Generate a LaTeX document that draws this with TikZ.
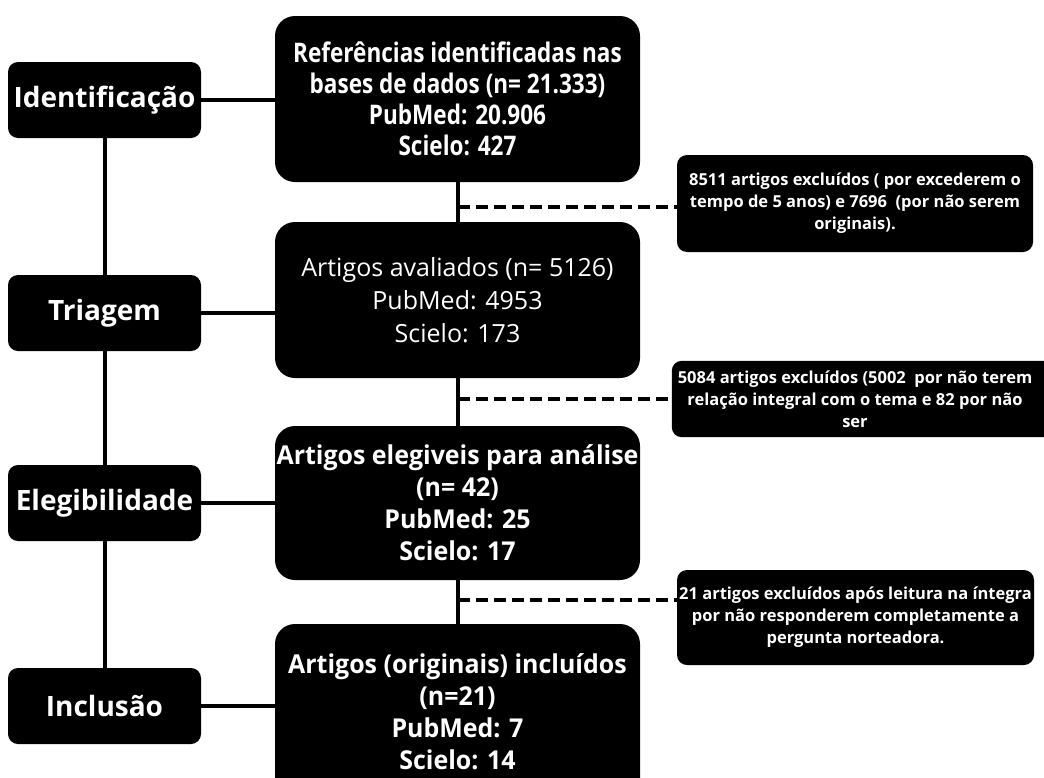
\documentclass[tikz,border=0pt]{standalone}
\usepackage{fontspec}
\usetikzlibrary{backgrounds}
\setmainfont{Open Sans}
\newfontfamily\narrowsans{Open Sans}[FakeStretch=0.835]
\newfontfamily\midsans{Open Sans}[FakeStretch=0.96]
\begin{document}
\begin{tikzpicture}[x=1pt,y=-1pt,
    stage/.style={fill=black, text=white, rounded corners=10pt, inner sep=0pt,
      minimum width=193pt, minimum height=76pt, font=\bfseries\fontsize{28}{32}\selectfont},
    mainbox/.style={fill=black, text=white, rounded corners=20pt, inner sep=0pt,
      minimum width=365pt, align=center, font=\narrowsans\bfseries\fontsize{27}{31}\selectfont},
    exclbox/.style={fill=black, text=white, rounded corners=10pt, inner sep=0pt,
      align=center, font=\bfseries\fontsize{16.5}{22}\selectfont},
    link/.style={line width=4pt},
    cut/.style={line width=4pt, dash pattern=on 12pt off 6pt}]
  \useasboundingbox (0,0) rectangle (1044,777);
  % stages
  \node[stage] (id) at (104.5,100) {Identificação};
  \node[stage] (tri) at (104.5,313) {Triagem};
  \node[stage] (ele) at (104.5,503) {Elegibilidade};
  \node[stage] (inc) at (104.5,706) {Inclusão};
  % main flow
  \node[mainbox, minimum height=166pt] (ref) at (457.5,99)
    {Referências identificadas nas\\bases de dados (n= 21.333)\\PubMed: 20.906\\Scielo: 427};
  \node[mainbox, minimum height=156pt, font=\fontsize{25}{33}\selectfont] (aval) at (457.5,300)
    {Artigos avaliados (n= 5126)\\PubMed: 4953\\Scielo: 173};
  \node[mainbox, minimum height=154pt, font=\midsans\bfseries\fontsize{26}{32}\selectfont] (eleg) at (457.5,503)
    {Artigos elegiveis para análise\\(n= 42)\\PubMed: 25\\Scielo: 17};
  \node[mainbox, minimum height=176pt, font=\midsans\bfseries\fontsize{26}{32}\selectfont] (incl) at (457.5,712)
    {Artigos (originais) incluídos\\(n=21)\\PubMed: 7\\Scielo: 14};
  % exclusions
  \node[exclbox, minimum width=356pt, minimum height=97pt] (exc1) at (855,203.5)
    {8511 artigos excluídos ( por excederem o\\tempo de 5 anos) e 7696~ (por não serem\\originais).};
  \node[exclbox, fill=none, minimum width=366pt, minimum height=76pt] (exc2) at (855,399)
    {5084 artigos excluídos (5002~ por não terem\\relação integral com o tema e 82 por não\\ser};
  \node[exclbox, minimum width=357pt, minimum height=95pt] (exc3) at (855.5,617.5)
    {21 artigos excluídos após leitura na íntegra\\por não responderem completamente a\\pergunta norteadora.};
  % connectors
  \draw[link] (id) -- (tri);
  \draw[link] (tri) -- (ele);
  \draw[link] (ele) -- (inc);
  \draw[link] (id.east) -- (id.east -| ref.west);
  \draw[link] (tri.east) -- (tri.east -| aval.west);
  \draw[link] (ele.east) -- (ele.east -| eleg.west);
  \draw[link] (inc.east) -- (inc.east -| incl.west);
  \draw[link] (ref) -- (aval);
  \draw[link] (aval) -- (eleg);
  \draw[link] (eleg) -- (incl);
  \coordinate (d1) at (458,207);
  \coordinate (d2) at (458,399);
  \coordinate (d3) at (458,600);
  \draw[cut] (d1) -- (d1 -| exc1.west);
  \draw[cut] (d2) -- (d2 -| exc2.west);
  \draw[cut] (d3) -- (d3 -| exc3.west);
  \begin{scope}[on background layer]
    \fill[white] (0,0) rectangle (1044,777);
    \fill[rounded corners=10pt] (exc2.north west) rectangle ([xshift=50pt]exc2.south east);
  \end{scope}
\end{tikzpicture}
\end{document}
